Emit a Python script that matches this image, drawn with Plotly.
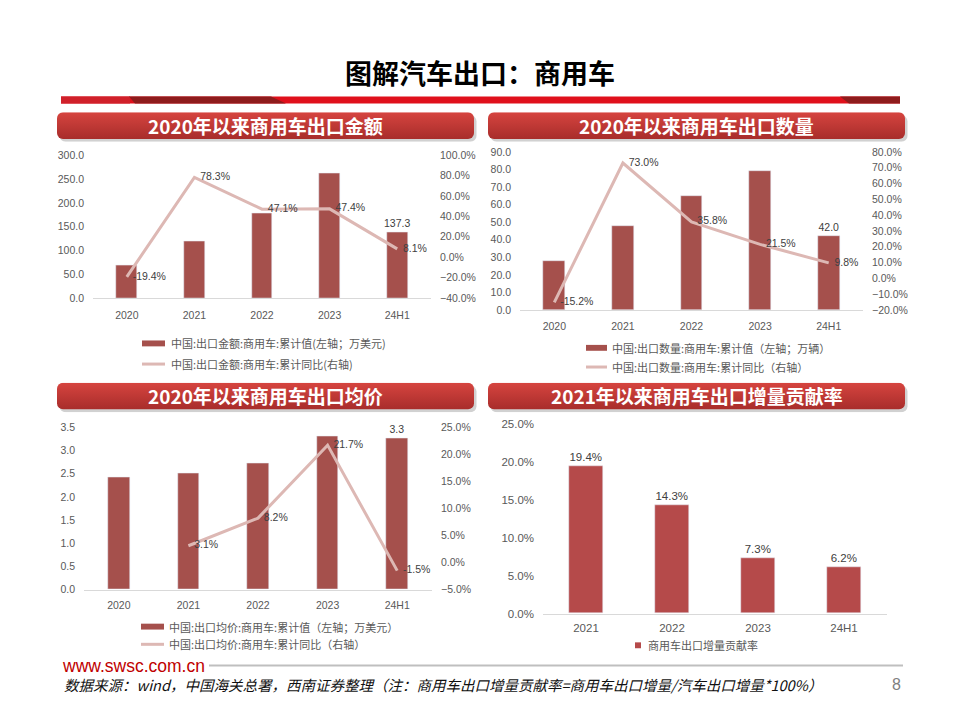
import base64
import plotly.graph_objects as go

# ---------------- data ----------------
years = ["2020", "2021", "2022", "2023", "24H1"]
export_amount = [67.6, 120.0, 177.0, 261.5, 137.3]        # 万美元 (left axis)
export_amount_yoy = [-19.4, 78.3, 47.1, 47.4, 8.1]        # % (right axis)
export_volume = [27.8, 48.0, 65.2, 79.0, 42.0]            # 万辆 (left axis)
export_volume_yoy = [-15.2, 73.0, 35.8, 21.5, 9.8]        # %
export_price = [2.43, 2.50, 2.72, 3.31, 3.27]             # 万美元
export_price_yoy = [None, 3.1, 8.2, 21.7, -1.5]           # %
contrib_years = ["2021", "2022", "2023", "24H1"]
contrib_rate = [19.4, 14.3, 7.3, 6.2]                     # %

BAR = "#A5504C"
BAR4 = "#B54A4A"
LINE = "#DDB8B4"
TICK = "#595959"
LBL = "#404040"
AXL = "#D9D9D9"
NUM = "Liberation Sans, Arial, Noto Sans CJK SC"
CJK = "Noto Sans CJK SC, Liberation Sans"

W, H = 960, 720
OFF = 8  # page body margin compensation


def px(x):
    return (x - OFF) / W


def py(y):
    return 1 - (y - OFF) / H


def last_only(vals, fmt):
    return [fmt.format(v) if i == len(vals) - 1 else "" for i, v in enumerate(vals)]


def pct(vals, pad=""):
    return ["" if v is None else f"{pad}{v:.1f}%" for v in vals]


PAD = "\u00a0\u00a0"

fig = go.Figure()

# ---- chart 1: export amount ----
fig.add_trace(go.Bar(x=years, y=export_amount, xaxis="x", yaxis="y", width=0.31,
                     marker=dict(color=BAR), text=last_only(export_amount, "{:.1f}"),
                     textposition="outside", cliponaxis=False, constraintext="none",
                     textfont=dict(size=10.5, color=LBL, family=NUM)))
fig.add_trace(go.Scatter(x=years, y=export_amount_yoy, xaxis="x", yaxis="y2", mode="lines+text",
                         line=dict(color=LINE, width=3), text=pct(export_amount_yoy, PAD),
                         textposition="middle right", cliponaxis=False,
                         textfont=dict(size=10.5, color=LBL, family=NUM)))
# ---- chart 2: export volume ----
fig.add_trace(go.Bar(x=years, y=export_volume, xaxis="x2", yaxis="y3", width=0.32,
                     marker=dict(color=BAR), text=last_only(export_volume, "{:.1f}"),
                     textposition="outside", cliponaxis=False, constraintext="none",
                     textfont=dict(size=10.5, color=LBL, family=NUM)))
fig.add_trace(go.Scatter(x=years, y=export_volume_yoy, xaxis="x2", yaxis="y4", mode="lines+text",
                         line=dict(color=LINE, width=3), text=pct(export_volume_yoy, PAD),
                         textposition="middle right", cliponaxis=False,
                         textfont=dict(size=10.5, color=LBL, family=NUM)))
# ---- chart 3: average price ----
fig.add_trace(go.Bar(x=years, y=export_price, xaxis="x3", yaxis="y5", width=0.31,
                     marker=dict(color=BAR), text=last_only(export_price, "{:.1f}"),
                     textposition="outside", cliponaxis=False, constraintext="none",
                     textfont=dict(size=10.5, color=LBL, family=NUM)))
fig.add_trace(go.Scatter(x=years, y=export_price_yoy, xaxis="x3", yaxis="y6", mode="lines+text",
                         line=dict(color=LINE, width=3), text=pct(export_price_yoy, PAD),
                         textposition="middle right", cliponaxis=False, connectgaps=False,
                         textfont=dict(size=10.5, color=LBL, family=NUM)))
# ---- chart 4: contribution rate ----
fig.add_trace(go.Bar(x=contrib_years, y=contrib_rate, xaxis="x4", yaxis="y7", width=0.40,
                     marker=dict(color=BAR4), text=pct(contrib_rate),
                     textposition="outside", cliponaxis=False, constraintext="none",
                     textfont=dict(size=11.5, color=LBL, family=NUM)))


def xax(d0, d1, anchor, standoff, size=10.5):
    return dict(domain=[px(d0), px(d1)], anchor=anchor, type="category", showline=True,
                linecolor=AXL, linewidth=1, ticks="", showgrid=False, zeroline=False,
                tickfont=dict(size=size, color=TICK, family=NUM), ticklabelstandoff=standoff)


def yax(top, bottom, anchor, rng, dtick, fmt, suffix="", side="left", overlay=None, size=10.5):
    d = dict(domain=[py(bottom), py(top)], anchor=anchor, range=rng, dtick=dtick, tick0=rng[0],
             tickformat=fmt, ticksuffix=suffix, showgrid=False, zeroline=False, showline=False,
             ticks="", side=side, tickfont=dict(size=size, color=TICK, family=NUM),
             ticklabelstandoff=8)
    if overlay:
        d["overlaying"] = overlay
    return d


fig.update_layout(
    width=W, height=H, margin=dict(l=0, r=0, t=0, b=0),
    paper_bgcolor="white", plot_bgcolor="rgba(0,0,0,0)", showlegend=False,
    bargap=0,
    xaxis=xax(93, 431, "y", 8),
    yaxis=yax(151.7, 296.7, "x", [0, 300], 50, ".1f"),
    yaxis2=yax(151.7, 296.7, "x", [-40, 100], 20, ".1f", "%", "right", "y"),
    xaxis2=xax(520, 863, "y3", 6),
    yaxis3=yax(148.3, 309, "x2", [0, 90], 10, ".1f"),
    yaxis4=yax(148.3, 309, "x2", [-20, 80], 10, ".1f", "%", "right", "y3"),
    xaxis3=xax(84, 432, "y5", 6),
    yaxis5=yax(428.3, 593.3, "x3", [0, 3.5], 0.5, ".1f"),
    yaxis6=yax(428.3, 593.3, "x3", [-5, 25], 5, ".1f", "%", "right", "y5"),
    xaxis4=xax(543, 887, "y7", 4, size=11.5),
    yaxis7=yax(425, 617.7, "x4", [0, 25], 5, ".1f", "%", size=11.5),
)

shapes = []
annotations = []
images = []


def rect(x0, y0, x1, y1, color):
    shapes.append(dict(type="rect", xref="paper", yref="paper", x0=px(x0), x1=px(x1),
                       y0=py(y1), y1=py(y0), fillcolor=color, line=dict(width=0), layer="above"))


def hline(x0, x1, y, color, width):
    shapes.append(dict(type="line", xref="paper", yref="paper", x0=px(x0), x1=px(x1),
                       y0=py(y), y1=py(y), line=dict(color=color, width=width), layer="above"))


def poly(points, color):
    path = "M " + " L ".join(f"{px(x)},{py(y)}" for x, y in points) + " Z"
    shapes.append(dict(type="path", xref="paper", yref="paper", path=path, fillcolor=color,
                       line=dict(width=0), layer="above"))


def text(x, y, s, size, color, family=CJK, xanchor="left"):
    annotations.append(dict(xref="paper", yref="paper", x=px(x), y=py(y), text=s, showarrow=False,
                            xanchor=xanchor, yanchor="middle",
                            font=dict(size=size, color=color, family=family)))


# --- page title & decorative bar ---
text(480, 67, "<b>图解汽车出口：商用车</b>", 27, "#000000", xanchor="center")
rect(61, 92, 900, 99, "#E0101B")
rect(61, 92, 130, 99, "#D0202A")
poly([(129, 92), (271, 92), (286, 99), (135, 99)], "#8E1C1C")
poly([(840, 92), (900, 92), (900, 99), (849, 99)], "#8E1C1C")


# --- panel banners (gradient via svg) ---
def banner(x0, y0, w, h):
    svg = (f'<svg xmlns="http://www.w3.org/2000/svg" width="{w}" height="{h}" viewBox="0 0 {w} {h}">'
           '<defs><linearGradient id="g" x1="0" y1="0" x2="0" y2="1">'
           '<stop offset="0" stop-color="#D6443F"/><stop offset="1" stop-color="#A82D2B"/>'
           '</linearGradient></defs>'
           f'<rect x="2.5" y="3" width="{w - 3}" height="{h - 3}" rx="6" fill="#000" opacity="0.18"/>'
           f'<rect x="0" y="0" width="{w - 3}" height="{h - 3}" rx="6" fill="url(#g)"/></svg>')
    uri = "data:image/svg+xml;base64," + base64.b64encode(svg.encode()).decode()
    images.append(dict(source=uri, xref="paper", yref="paper", x=px(x0), y=py(y0),
                       sizex=w / W, sizey=h / H, xanchor="left", yanchor="top",
                       sizing="stretch", layer="below"))


banners = [
    (57, 108, "2020年以来商用车出口金额"),
    (488, 108, "2020年以来商用车出口数量"),
    (57, 383, "2020年以来商用车出口均价"),
    (488, 383, "2021年以来商用车出口增量贡献率"),
]
for bx, by, title in banners:
    banner(bx, by, 420, 30)
    text(bx + 208.5, by + 13, f"<b>{title}</b>", 19, "#FFFFFF", xanchor="center")

# --- legends ---
LG = 11
rect(142, 340, 165, 346, BAR)
text(169, 343, "中国:出口金额:商用车:累计值(左轴；万美元)", LG, TICK)
hline(142, 165, 364, LINE, 3)
text(169, 364, "中国:出口金额:商用车:累计同比(右轴)", LG, TICK)

rect(586, 344.5, 607, 350.5, BAR)
text(610, 347.3, "中国:出口数量:商用车:累计值（左轴；万辆）", LG, TICK)
hline(586, 607, 367, LINE, 3)
text(610, 367, "中国:出口数量:商用车:累计同比（右轴）", LG, TICK)

rect(141, 628, 164, 634, BAR)
text(167, 631, "中国:出口均价:商用车:累计值（左轴；万美元）", LG, TICK)
hline(141, 164, 649, LINE, 3)
text(167, 649, "中国:出口均价:商用车:累计同比（右轴）", LG, TICK)

rect(635, 647, 641, 653, BAR4)
text(646, 650, "商用车出口增量贡献率", LG, TICK)

# --- footer ---
text(60, 671, "www.swsc.com.cn", 17.5, "#C00000", family="Liberation Sans, Arial")
hline(209, 903, 670.5, "#BFBFBF", 2)
text(62, 690, "<i>数据来源：wind，中国海关总署，西南证券整理（注：商用车出口增量贡献率=商用车出口增量/汽车出口增量*100%）</i>",
     14.5, "#111111")
text(903, 690, "8", 16, "#7F7F7F", family="Liberation Sans, Arial", xanchor="right")

fig.update_layout(shapes=shapes, annotations=annotations, images=images)
fig.write_html("out.html")
